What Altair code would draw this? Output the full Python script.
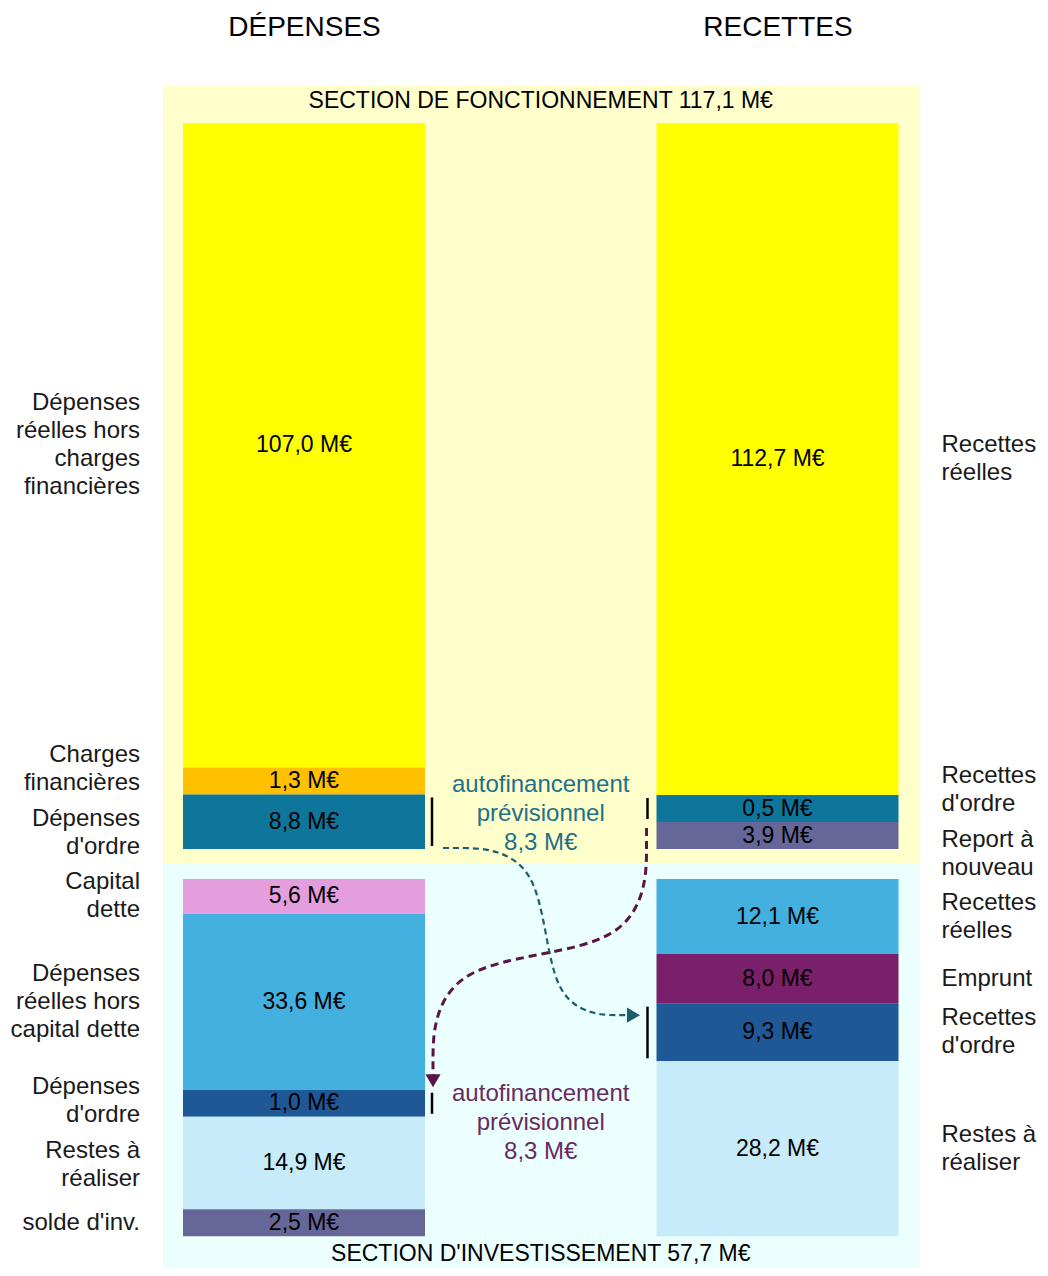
import altair as alt
import pandas as pd

# ---------------- data ----------------
COLUMNS = ["DÉPENSES", "RECETTES"]
SECTION_TITLES = ["SECTION DE FONCTIONNEMENT 117,1 M€", "SECTION D'INVESTISSEMENT 57,7 M€"]

FONCT_DEP_LABELS = ["Dépenses\nréelles hors\ncharges\nfinancières", "Charges\nfinancières", "Dépenses\nd'ordre"]
FONCT_DEP_VALUES = [107.0, 1.3, 8.8]
FONCT_REC_LABELS = ["Recettes\nréelles", "Recettes\nd'ordre", "Report à\nnouveau"]
FONCT_REC_VALUES = [112.7, 0.5, 3.9]
INV_DEP_LABELS = ["Capital\ndette", "Dépenses\nréelles hors\ncapital dette", "Dépenses\nd'ordre", "Restes à\nréaliser", "solde d'inv."]
INV_DEP_VALUES = [5.6, 33.6, 1.0, 14.9, 2.5]
INV_REC_LABELS = ["Recettes\nréelles", "Emprunt", "Recettes\nd'ordre", "Restes à\nréaliser"]
INV_REC_VALUES = [12.1, 8.0, 9.3, 28.2]
AUTOFIN_WORDS = "autofinancement\nprévisionnel"
AUTOFIN_VALUE = 8.3

# ---------------- style ----------------
FONCT_DEP_COLORS = ["#FFFF00", "#FFC000", "#0E769B"]
FONCT_REC_COLORS = ["#FFFF00", "#0E769B", "#666699"]
INV_DEP_COLORS = ["#E59EDD", "#43B0E0", "#1F5897", "#C8EBFA", "#666699"]
INV_REC_COLORS = ["#43B0E0", "#7A1F6A", "#1F5897", "#C8EBFA"]
PANEL_COLORS = ["#FFFFCC", "#EBFFFF"]
TEAL_TEXT, TEAL_LINE = "#226F88", "#1B5E6E"
PURPLE_TEXT, PURPLE_LINE = "#6A2A5E", "#5B1448"
FONT = "Liberation Sans"

W, H = 757, 1183          # plot area (px)
K = 6.2                   # px per M€
STEP = 473.5              # px between column centres
C0 = 141                  # px from left to first column centre
HALF = 121 / STEP         # half bar width (column units)
LINE_H = 28
ANNOT_LINE_H = 29


def u(px):
    return px / K


def ux(px):
    return px / STEP


def fmt(v):
    return f"{v:.1f}".replace(".", ",") + " M€"


MIN_SEG = u(27)  # minimum visible segment height (schematic, as in the original)


def display_sizes(vals):
    d = [max(v, MIN_SEG) for v in vals]
    extra = sum(d) - sum(vals)
    i = vals.index(max(vals))
    d[i] -= extra
    return d


def spread(centers, heights, gap):
    c = list(centers)
    for _ in range(300):
        moved = False
        for i in range(len(c) - 1):
            need = (heights[i] + heights[i + 1]) / 2 + gap
            d = c[i + 1] - c[i]
            if d < need - 1e-9:
                s = (need - d) / 2
                c[i] -= s
                c[i + 1] += s
                moved = True
        if not moved:
            break
    return c


sections = [
    [(FONCT_DEP_LABELS, FONCT_DEP_VALUES, FONCT_DEP_COLORS),
     (FONCT_REC_LABELS, FONCT_REC_VALUES, FONCT_REC_COLORS)],
    [(INV_DEP_LABELS, INV_DEP_VALUES, INV_DEP_COLORS),
     (INV_REC_LABELS, INV_REC_VALUES, INV_REC_COLORS)],
]

Y_END = u(H)
rows = []
panels = []
titles = []
top = u(38)
panel_start = 0.0
for s, cols in enumerate(sections):
    total = max(sum(v) for _, v, _ in cols)
    for c, (labels, vals, colors) in enumerate(cols):
        disp = display_sizes(vals)
        y = top
        seg = []
        for lab, v, d, col in zip(labels, vals, disp, colors):
            seg.append(dict(section=s, col=c, label=lab, value=v, text=fmt(v),
                            y0=y, y1=y + d, ymid=y + d / 2, color=col,
                            x0=c - HALF, x1=c + HALF, xc=float(c),
                            nlines=lab.count("\n") + 1))
            y += d
        centers = spread([r["ymid"] for r in seg],
                         [u(r["nlines"] * LINE_H) for r in seg], u(8))
        for r, cy in zip(seg, centers):
            # Vega draws the first line at y: shift so the block is centred
            r["ylab"] = cy - u((r["nlines"] - 1) * LINE_H / 2)
        rows.extend(seg)
    bottom = top + total
    if s == 0:
        boundary = bottom + u(14)
        panels.append(dict(y0=panel_start, y1=boundary, color=PANEL_COLORS[s]))
        titles.append(dict(x=0.5, y=u(16), text=SECTION_TITLES[s]))
        panel_start = boundary
        top = boundary + u(16)
    else:
        panels.append(dict(y0=panel_start, y1=Y_END, color=PANEL_COLORS[s]))
        titles.append(dict(x=0.5, y=Y_END - u(14), text=SECTION_TITLES[s]))

df = pd.DataFrame(rows)
df_panels = pd.DataFrame(panels)
df_titles = pd.DataFrame(titles)


def find(s, c, key):
    return df[(df.section == s) & (df.col == c) & (df.label.str.contains(key))].iloc[0]


ordre = df[df.label.str.contains("d'ordre")].copy()
ordre["tx"] = [r.x1 + ux(7) if r.col == 0 else r.x0 - ux(9) for r in ordre.itertuples()]
ordre["ty0"] = ordre.y0 + u(3)
ordre["ty1"] = ordre.y1 - u(3)

f_dep = find(0, 0, "d'ordre")
f_rec = find(0, 1, "d'ordre")
i_dep = find(1, 0, "d'ordre")
i_rec = find(1, 1, "d'ordre")

# teal arrow: dépenses d'ordre (fonct.) -> recettes d'ordre (invest.)
t_sx, t_sy = HALF + ux(18), f_dep.y1 - u(1)
t_ex, t_ey = 1 - HALF - ux(23), i_rec.y0 + 0.2 * (i_rec.y1 - i_rec.y0)
t_mx = 0.5 + ux(5)
teal = pd.DataFrame(dict(i=[0, 1, 2, 3], x=[t_sx, t_mx, t_mx, t_ex], y=[t_sy, t_sy, t_ey, t_ey]))
teal_head = pd.DataFrame(dict(x=[t_ex], y=[t_ey]))

# purple arrow: recettes d'ordre (fonct.) -> dépenses d'ordre (invest.)
p_sx, p_sy = 1 - HALF - ux(10), f_rec.y1 + u(6)
p_ex, p_ey = HALF + ux(8), i_dep.y0 - u(9)
p_my = (p_sy + p_ey) / 2
purple = pd.DataFrame(dict(i=[0, 1, 2, 3], x=[p_sx, p_sx, p_ex, p_ex], y=[p_sy, p_my, p_my, p_ey]))
purple_head = pd.DataFrame(dict(x=[p_ex], y=[p_ey]))

annot = pd.DataFrame(dict(
    x=[0.5, 0.5],
    y=[f_dep.y1 - u(64), i_dep.y0 + u(4)],   # first line position
    text=[AUTOFIN_WORDS + "\n" + fmt(AUTOFIN_VALUE)] * 2,
    color=[TEAL_TEXT, PURPLE_TEXT],
))

# ---------------- scales ----------------
X_DOMAIN = [-C0 / STEP, (W - C0) / STEP]
xscale = alt.Scale(domain=X_DOMAIN, nice=False, zero=False)
label_expr = f"datum.value == 0 ? '{COLUMNS[0]}' : '{COLUMNS[1]}'"
xaxis = alt.Axis(orient="top", values=[0, 1], labelExpr=label_expr, domain=False,
                 ticks=False, grid=False, labelFontSize=28, labelFont=FONT,
                 labelColor="#000000", labelPadding=44, title=None,
                 labelFlush=False, labelOverlap=False)
yscale = alt.Scale(domain=[0, Y_END], reverse=True, nice=False, zero=False)


def X(f):
    return alt.X(f"{f}:Q", scale=xscale, axis=xaxis)


def Y(f):
    return alt.Y(f"{f}:Q", scale=yscale, axis=None)


bg = alt.Chart(df_panels).mark_rect().encode(
    x=alt.value(0), x2=alt.value("width"),
    y=Y("y0"), y2=alt.Y2("y1:Q"),
    color=alt.Color("color:N", scale=None),
)

bars = alt.Chart(df).mark_rect().encode(
    x=X("x0"), x2=alt.X2("x1:Q"),
    y=Y("y0"), y2=alt.Y2("y1:Q"),
    color=alt.Color("color:N", scale=None),
)

values = alt.Chart(df).mark_text(font=FONT, fontSize=23, color="#000000",
                                 baseline="middle", align="center").encode(
    x=X("xc"), y=Y("ymid"), text="text:N")

left_labels = alt.Chart(df[df.col == 0]).mark_text(
    font=FONT, fontSize=24, color="#1a1a1a", align="right", baseline="middle",
    dx=-43, lineBreak="\n", lineHeight=LINE_H).encode(
    x=X("x0"), y=Y("ylab"), text="label:N")

right_labels = alt.Chart(df[df.col == 1]).mark_text(
    font=FONT, fontSize=24, color="#1a1a1a", align="left", baseline="middle",
    dx=43, lineBreak="\n", lineHeight=LINE_H).encode(
    x=X("x1"), y=Y("ylab"), text="label:N")

ticks = alt.Chart(ordre).mark_rule(color="#000000", strokeWidth=2.5).encode(
    x=X("tx"), y=Y("ty0"), y2=alt.Y2("ty1:Q"))

teal_line = alt.Chart(teal).mark_line(interpolate="basis", color=TEAL_LINE,
                                      strokeWidth=2.2, strokeDash=[6, 4]).encode(
    x=X("x"), y=Y("y"), order="i:Q")
teal_arrow = alt.Chart(teal_head).mark_point(shape="triangle-right", filled=True,
                                             size=230, color=TEAL_LINE, opacity=1).encode(
    x=X("x"), y=Y("y"))

purple_line = alt.Chart(purple).mark_line(interpolate="basis", color=PURPLE_LINE,
                                          strokeWidth=3, strokeDash=[8, 5]).encode(
    x=X("x"), y=Y("y"), order="i:Q")
purple_arrow = alt.Chart(purple_head).mark_point(shape="triangle-down", filled=True,
                                                 size=230, color=PURPLE_LINE, opacity=1).encode(
    x=X("x"), y=Y("y"))

annot_text = alt.Chart(annot).mark_text(
    font=FONT, fontSize=24, align="center", baseline="middle",
    lineBreak="\n", lineHeight=ANNOT_LINE_H).encode(
    x=X("x"), y=Y("y"), text="text:N", color=alt.Color("color:N", scale=None))

title_text = alt.Chart(df_titles).mark_text(
    font=FONT, fontSize=23, color="#000000", align="center", baseline="middle").encode(
    x=X("x"), y=Y("y"), text="text:N")

chart = alt.layer(
    bg, bars, values, left_labels, right_labels, ticks,
    teal_line, purple_line, teal_arrow, purple_arrow, annot_text, title_text,
).properties(
    width=W, height=H,
    autosize=alt.AutoSizeParams(type="none"),
    padding={"left": 155, "top": 77, "right": 120, "bottom": 0},
).configure_view(stroke=None)

chart.save("out.html", embed_options={"renderer": "svg", "actions": False})
